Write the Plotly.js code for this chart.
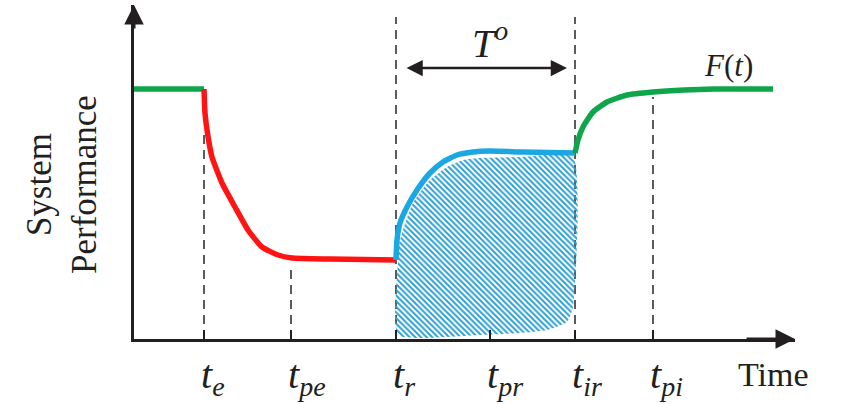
<!DOCTYPE html>
<html>
<head>
<meta charset="utf-8">
<script src="https://cdn.plot.ly/plotly-3.0.1.min.js"></script>
<style>html,body{margin:0;padding:0;background:#fff;}#chart{width:841px;height:404px;}</style>
</head>
<body>
<div id="chart"></div>
<script>
// ---- data (time units, performance units) ----
const tickSubs = ['e', 'pe', 'r', 'pr', 'ir', 'pi'];
const tickTimes = [7.0, 15.7, 26.2, 35.6, 44.1, 51.9];
// top of each dashed guide line (null = tick only)
const guideTops = [83.6, 28.8, 128.8, null, 128.8, 96.8];

const normalTime = [0, 7.0];
const normalPerf = [100, 100];

const disruptTime = [7.0, 7.1, 7.4, 7.8, 8.8, 10.1, 11.4, 12.8, 14.4, 15.8, 19.6, 26.2];
const disruptPerf = [100, 90.4, 81.0, 72.8, 62.4, 52.8, 43.6, 36.8, 33.6, 32.4, 32.0, 31.6];

const recoveryTime = [26.2, 26.3, 26.6, 27.3, 28.3, 29.6, 30.9, 32.3, 33.9, 35.6, 38.9, 44.1];
const recoveryPerf = [31.6, 39.6, 46.4, 52.8, 59.6, 66.4, 70.8, 73.6, 74.8, 75.2, 74.8, 74.4];

const restoreTime = [44.1, 44.4, 44.9, 45.9, 47.3, 49.3, 51.9, 55.0, 58.0, 63.9];
const restorePerf = [74.4, 79.6, 84.8, 90.8, 94.8, 97.6, 98.8, 99.6, 100, 100];

const hatchTime = [26.4, 26.5, 26.9, 27.9, 29.6, 31.3, 32.9, 34.6, 38.6, 43.9, 43.9, 43.3, 41.3, 38.6, 34.6, 26.4, 26.4];
const hatchPerf = [30.8, 37.6, 43.6, 54.4, 63.6, 68.8, 71.6, 72.4, 72.8, 72.8, 12.8, 6.8, 3.6, 2.4, 1.6, 1.6, 30.8];

const xMax = 66.1, yMax = 133.6;
const ink = '#231f20';
const serif = 'Times';
const sp = s => '<span style="font-family:Times">' + s + '</span>';
const it = s => '<span style="font-family:Times;font-style:italic">' + s + '</span>';

const traces = [];
// dashed guides
tickTimes.forEach((t, i) => {
  if (guideTops[i] === null) return;
  traces.push({x: [t, t], y: [0, guideTops[i]], mode: 'lines', hoverinfo: 'skip',
    line: {color: '#333333', width: 1.6, dash: '9px,6px'}});
});
// hatched area
traces.push({x: hatchTime, y: hatchPerf, mode: 'lines', fill: 'toself', line: {width: 0, shape: 'spline', smoothing: 0.5},
  fillcolor: 'rgba(0,0,0,0)',
  fillpattern: {shape: '\\', size: 4, solidity: 0.5, fgcolor: '#2f9fd0', bgcolor: 'rgba(0,0,0,0)'}, hoverinfo: 'skip'});
// curves
const seg = (x, y, c) => ({x: x, y: y, mode: 'lines', hoverinfo: 'skip',
  line: {color: c, width: 5.5, shape: 'spline', smoothing: 0.5}});
traces.push(seg(normalTime, normalPerf, '#0fa64b'));
traces.push(seg(disruptTime, disruptPerf, '#ff1414'));
traces.push(seg(recoveryTime, recoveryPerf, '#1aa7e2'));
traces.push(seg(restoreTime, restorePerf, '#0fa64b'));

const annotations = [];
// axis arrowheads
annotations.push({x: xMax, y: 0, ax: xMax - 5, ay: 0, axref: 'x', ayref: 'y', xref: 'x', yref: 'y',
  text: '', showarrow: true, arrowhead: 2, arrowsize: 1.3, arrowwidth: 3, arrowcolor: ink});
annotations.push({x: 0, y: yMax, ax: 0, ay: yMax - 10, axref: 'x', ayref: 'y', xref: 'x', yref: 'y',
  text: '', showarrow: true, arrowhead: 2, arrowsize: 1.3, arrowwidth: 3, arrowcolor: ink});
// T^o double arrow
annotations.push({x: 43.3, y: 108.4, ax: 27.1, ay: 108.4, axref: 'x', ayref: 'y', xref: 'x', yref: 'y',
  text: '', showarrow: true, arrowside: 'end+start', arrowhead: 2, startarrowhead: 2,
  arrowsize: 1.3, startarrowsize: 1.3, arrowwidth: 2.5, arrowcolor: ink});
annotations.push({x: 35.6, y: 119.6, xref: 'x', yref: 'y', xanchor: 'center', yanchor: 'middle',
  text: it('T') + '<sup>' + it('o') + '</sup>', showarrow: false, font: {family: serif, size: 40, color: ink}});
annotations.push({x: 59.4, y: 109.6, xref: 'x', yref: 'y', xanchor: 'center', yanchor: 'middle',
  text: it('F') + sp('(') + it('t') + sp(')'), showarrow: false, font: {family: serif, size: 31, color: ink}});
// time labels
tickSubs.forEach((s, i) => {
  annotations.push({x: tickTimes[i], y: -0.115, xref: 'x', yref: 'paper', xanchor: 'left', xshift: -5,
    yanchor: 'middle', text: it('t') + '<sub>' + it(s) + '</sub>', showarrow: false,
    font: {family: serif, size: 40, color: ink}});
});
annotations.push({x: (773 - 134) / 661, y: -0.105, xref: 'paper', yref: 'paper', xanchor: 'center', yanchor: 'middle',
  text: 'Time', showarrow: false, font: {family: serif, size: 34, color: ink}});
annotations.push({x: -0.109, y: 0.464, xref: 'paper', yref: 'paper', xanchor: 'center', yanchor: 'middle',
  text: sp('System') + '<br>' + sp('Performance'), showarrow: false, textangle: -90,
  font: {family: serif, size: 35, color: ink}});

const layout = {
  width: 841, height: 404,
  margin: {l: 134, r: 46, t: 5, b: 65},
  paper_bgcolor: '#fff', plot_bgcolor: '#fff',
  showlegend: false,
  font: {family: serif},
  xaxis: {range: [0, xMax], showgrid: false, zeroline: false, showline: true, linewidth: 3, linecolor: ink,
    tickmode: 'array', tickvals: tickTimes, ticks: 'inside', ticklen: 9, tickwidth: 1.5, tickcolor: ink,
    showticklabels: false, fixedrange: true},
  yaxis: {range: [0, yMax], showgrid: false, zeroline: false, showline: true, linewidth: 3, linecolor: ink,
    ticks: '', showticklabels: false, fixedrange: true},
  annotations: annotations
};
Plotly.newPlot('chart', traces, layout, {displayModeBar: false, staticPlot: true});
</script>
</body>
</html>
